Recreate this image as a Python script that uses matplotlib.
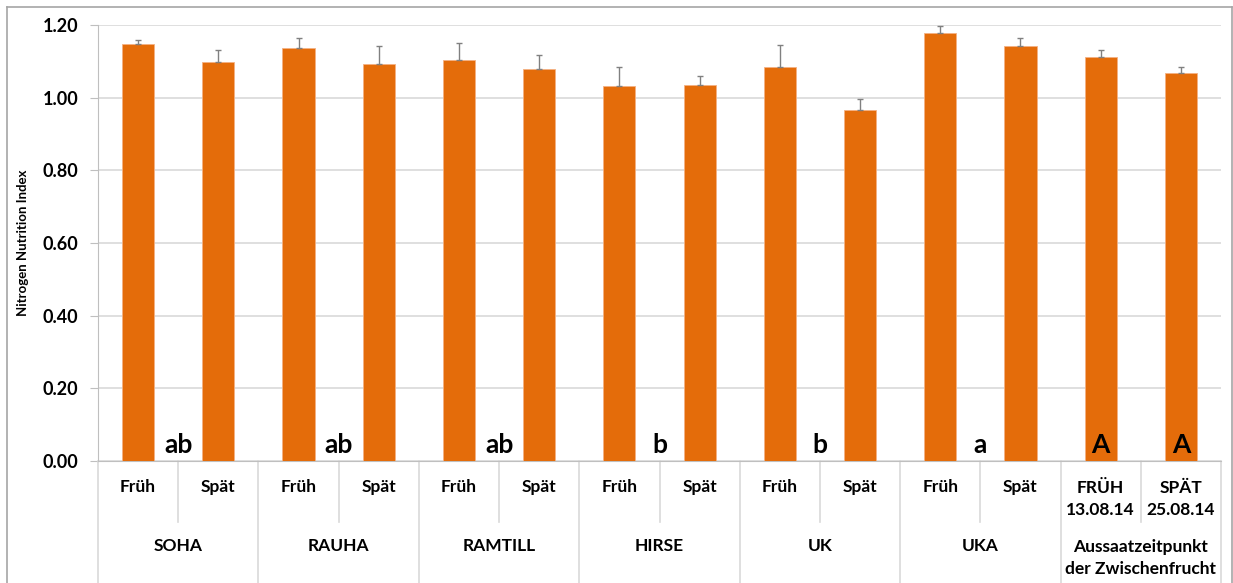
import numpy as np
import matplotlib
matplotlib.use("Agg")
import matplotlib.pyplot as plt
from matplotlib.lines import Line2D

plt.rcParams['font.family'] = ['Lato', 'DejaVu Sans']

# data
sub_labels = ["Früh", "Spät"] * 6 + ["FRÜH\n13.08.14", "SPÄT\n25.08.14"]
groups = ["SOHA", "RAUHA", "RAMTILL", "HIRSE", "UK", "UKA",
          "Aussaatzeitpunkt\nder Zwischenfrucht"]
values = [1.149, 1.099, 1.136, 1.094, 1.104, 1.078, 1.033, 1.035,
          1.084, 0.965, 1.177, 1.141, 1.113, 1.069]
err_top = [1.159, 1.131, 1.164, 1.141, 1.150, 1.117, 1.085, 1.059,
           1.144, 0.997, 1.196, 1.165, 1.130, 1.085]
group_letters = ["ab", "ab", "ab", "b", "b", "a"]
date_letters = ["A", "A"]

values = np.array(values)
errs = np.array(err_top) - values
x = np.arange(len(values))

W, H = 1233, 583
fig = plt.figure(figsize=(W / 100, H / 100), dpi=100)
ax_left, ax_right, ax_bot, ax_top = 98, 1221, 461, 25
ax = fig.add_axes([ax_left / W, 1 - ax_bot / H, (ax_right - ax_left) / W,
                   (ax_bot - ax_top) / H])

grid_c = "#D9D9D9"
line_c = "#BFBFBF"

ax.bar(x, values, width=0.4, color="#E46C0A", edgecolor="#F4B183",
       linewidth=0.6, zorder=3)
ax.errorbar(x, values, yerr=[np.zeros_like(errs), errs], fmt="none",
            ecolor="#808080", elinewidth=1.0, capsize=2.5, capthick=1.0, zorder=4)

ax.set_xlim(-0.5, len(values) - 0.5)
ax.set_ylim(0, 1.2)
ax.set_yticks(np.arange(0, 1.21, 0.2))
ax.set_yticklabels([f"{v:.2f}" for v in np.arange(0, 1.21, 0.2)],
                   fontsize=13, fontweight="bold")
ax.yaxis.grid(True, color=grid_c, linewidth=1.2, zorder=0)
ax.tick_params(axis="y", length=6, color=line_c, pad=8)
ax.set_xticks([])
for s in ["top", "right"]:
    ax.spines[s].set_visible(False)
ax.spines["left"].set_color(line_c)
ax.spines["bottom"].set_color(line_c)
ax.set_ylabel("Nitrogen Nutrition Index", fontsize=9.5, fontweight="bold",
              labelpad=10)

# category axis (two levels) drawn below the plot
tr = ax.get_xaxis_transform()
h = ax_bot - ax_top
y_mid = -(522 - ax_bot) / h
y_end = -(H - ax_bot) / h
y_sub = -(487 - ax_bot) / h
y_grp = -(546 - ax_bot) / h

for i, lab in enumerate(sub_labels):
    if "\n" in lab:
        ax.text(i, -(499 - ax_bot) / h, lab, transform=tr, ha="center",
                va="center", fontsize=12.5, fontweight="bold", linespacing=1.4)
    else:
        ax.text(i, y_sub, lab, transform=tr, ha="center", va="center",
                fontsize=12.5, fontweight="bold")
for g, lab in enumerate(groups):
    yy = -(558 - ax_bot) / h if "\n" in lab else y_grp
    ax.text(2 * g + 0.5, yy, lab, transform=tr, ha="center", va="center",
            fontsize=12.5, fontweight="bold", linespacing=1.4)

for k in range(len(values) + 1):
    xx = k - 0.5
    y1 = y_end if k % 2 == 0 else y_mid
    ax.add_line(Line2D([xx, xx], [0, y1], transform=tr, color=grid_c,
                       linewidth=1.2, clip_on=False))

# significance letters
for g, lab in enumerate(group_letters):
    ax.text(2 * g + 0.5, 0.01, lab, ha="center", va="bottom", fontsize=19,
            fontweight="bold", zorder=5)
for i, lab in enumerate(date_letters):
    ax.text(12 + i, 0.01, lab, ha="center", va="bottom", fontsize=19,
            fontweight="bold", zorder=5)

# outer chart frame
fig.add_artist(Line2D([6.5 / W, 6.5 / W], [0, 1 - 6.5 / H], color="#A6A6A6",
                      linewidth=1.2, transform=fig.transFigure))
fig.add_artist(Line2D([6.5 / W, 1231.5 / W], [1 - 6.5 / H, 1 - 6.5 / H],
                      color="#A6A6A6", linewidth=1.2, transform=fig.transFigure))
fig.add_artist(Line2D([1231.5 / W, 1231.5 / W], [0, 1 - 6.5 / H],
                      color="#A6A6A6", linewidth=1.2, transform=fig.transFigure))

fig.savefig("out.png", dpi=100)
